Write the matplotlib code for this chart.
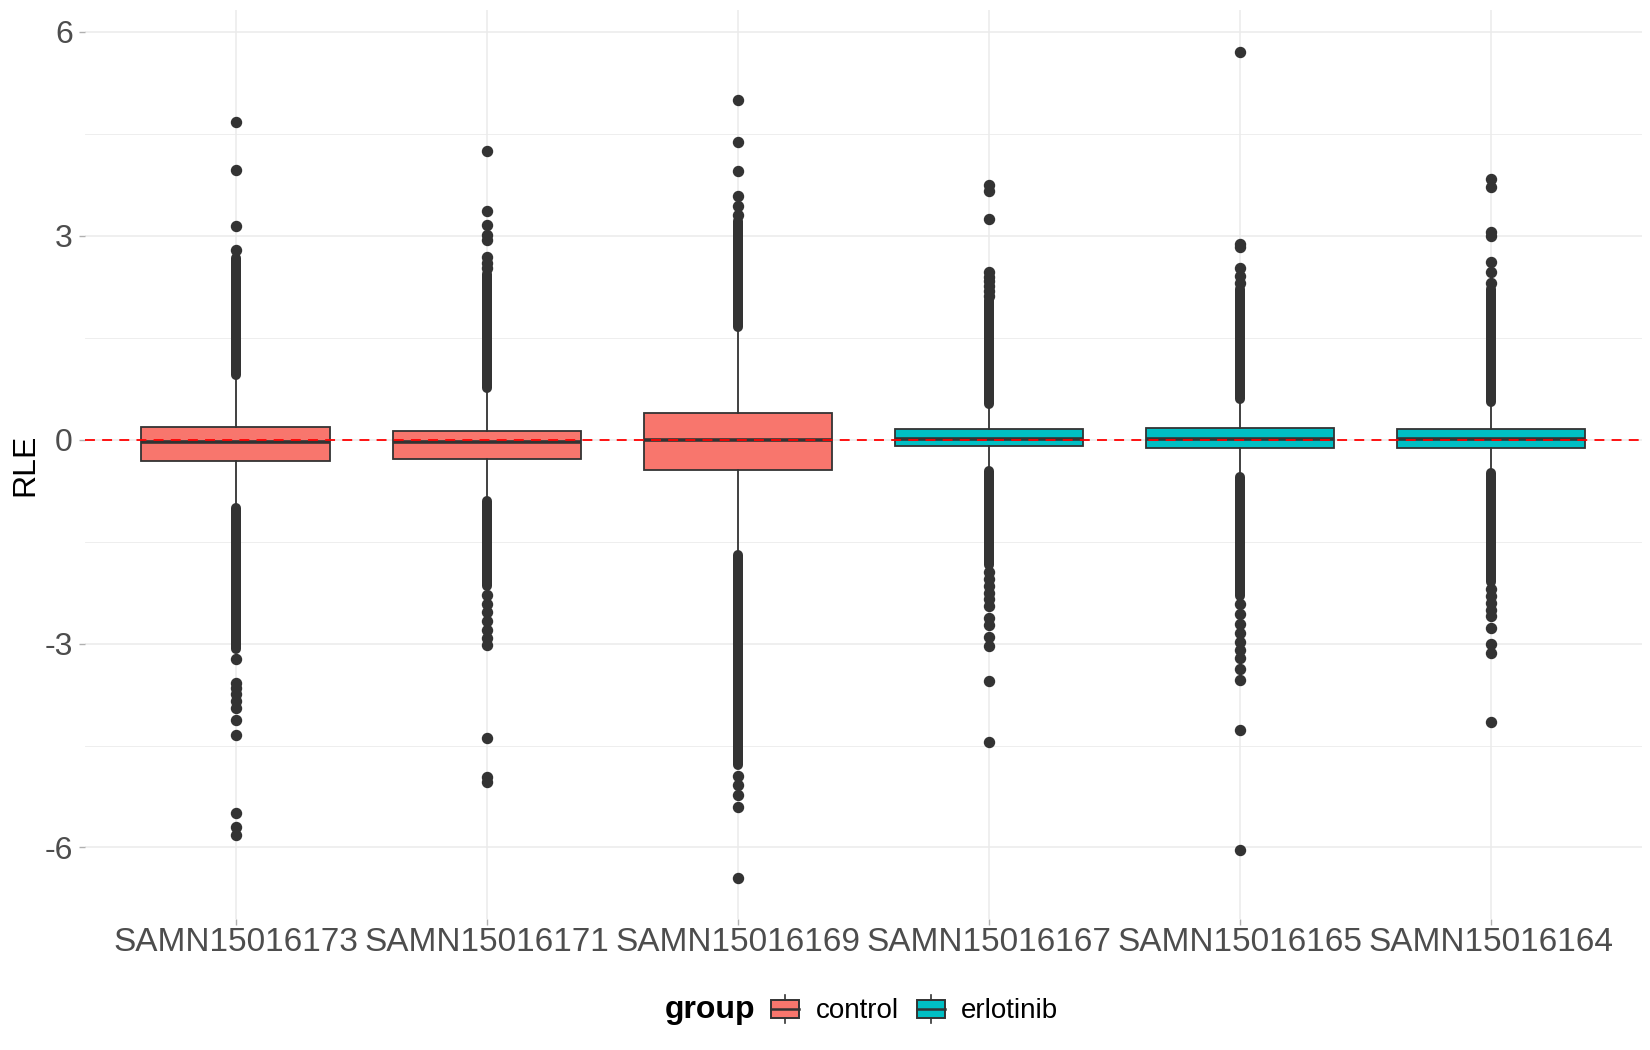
import matplotlib
matplotlib.use('Agg')
import matplotlib.pyplot as plt
from matplotlib.patches import Rectangle
from matplotlib.lines import Line2D

plt.rcParams['font.family'] = ['Liberation Sans', 'DejaVu Sans']
plt.rcParams['axes.unicode_minus'] = False

# ---- data ----
samples = ['SAMN15016173', 'SAMN15016171', 'SAMN15016169',
           'SAMN15016167', 'SAMN15016165', 'SAMN15016164']
groups = ['control', 'control', 'control', 'erlotinib', 'erlotinib', 'erlotinib']

q1 = [-0.31, -0.28, -0.45, -0.10, -0.12, -0.12]
med = [-0.03, -0.04, 0.00, 0.01, 0.01, 0.01]
q3 = [0.19, 0.13, 0.39, 0.15, 0.17, 0.16]
whislo = [-0.99, -0.85, -1.66, -0.43, -0.50, -0.45]
whishi = [0.90, 0.71, 1.62, 0.49, 0.55, 0.50]

# single outliers
out_hi = [
    [4.67, 3.97, 3.14, 2.79],
    [4.25, 3.36, 3.16, 3.01, 2.93, 2.69, 2.60, 2.53],
    [4.99, 4.38, 3.95, 3.59, 3.44, 3.30],
    [3.75, 3.66, 3.24, 2.47, 2.40, 2.33, 2.26, 2.19, 2.12],
    [5.71, 2.88, 2.83, 2.53, 2.41, 2.30],
    [3.84, 3.72, 3.05, 3.00, 2.61, 2.46, 2.30],
]
out_lo = [
    [-3.22, -3.58, -3.66, -3.74, -3.84, -3.95, -4.13, -4.34, -5.49, -5.70, -5.81],
    [-2.28, -2.42, -2.54, -2.67, -2.80, -2.92, -3.02, -4.39, -4.97, -5.03],
    [-4.95, -5.08, -5.23, -5.41, -6.45],
    [-1.95, -2.05, -2.15, -2.25, -2.35, -2.45, -2.63, -2.72, -2.91, -3.03, -3.55, -4.45],
    [-2.42, -2.57, -2.71, -2.84, -2.97, -3.09, -3.21, -3.38, -3.54, -4.27, -6.03],
    [-2.20, -2.30, -2.40, -2.50, -2.59, -2.77, -3.00, -3.14, -4.15],
]
# runs of outliers so dense they merge into a column (low, high)
dense_hi = [(0.95, 2.67), (0.76, 2.44), (1.66, 3.21), (0.53, 2.05), (0.60, 2.22), (0.55, 2.22)]
dense_lo = [(-3.08, -1.01), (-2.16, -0.90), (-4.79, -1.70), (-1.84, -0.46), (-2.30, -0.55), (-2.10, -0.49)]

colors = {'control': '#F8766D', 'erlotinib': '#00BFC4'}
dark = '#333333'

W, H = 1650, 1050
fig = plt.figure(figsize=(W / 100, H / 100), dpi=100)
ax = fig.add_axes([85 / W, 1 - 919.4 / H, (1641.5 - 85) / W, (919.4 - 10.2) / H])

pos = list(range(1, len(samples) + 1))
stats = []
for i in range(len(samples)):
    stats.append(dict(med=med[i], q1=q1[i], q3=q3[i], whislo=whislo[i], whishi=whishi[i],
                      fliers=out_hi[i] + out_lo[i]))

# dense outlier columns drawn as thick round-capped lines
for i in range(len(samples)):
    for lo, hi in (dense_hi[i], dense_lo[i]):
        ax.plot([pos[i], pos[i]], [lo, hi], color=dark, lw=7.2, solid_capstyle='round', zorder=2)

bp = ax.bxp(stats, positions=pos, widths=0.75, patch_artist=True, showcaps=False,
            boxprops=dict(edgecolor=dark, linewidth=1.3),
            medianprops=dict(color=dark, linewidth=2.6),
            whiskerprops=dict(color=dark, linewidth=1.3),
            flierprops=dict(marker='o', markerfacecolor=dark, markeredgecolor=dark,
                            markersize=7.2, linestyle='none'),
            zorder=3)
for patch, g in zip(bp['boxes'], groups):
    patch.set_facecolor(colors[g])

ax.axhline(0, color='red', lw=1.3, ls=(0, (5.5, 4)), zorder=5)

allv = [v for l in out_hi + out_lo for v in l]
lo_v, hi_v = min(allv), max(allv)
rng = hi_v - lo_v
ax.set_ylim(lo_v - 0.05 * rng, hi_v + 0.05 * rng)
ax.set_xlim(0.4, len(samples) + 0.6)

ax.set_yticks([-6, -3, 0, 3, 6])
ax.set_yticks([-4.5, -1.5, 1.5, 4.5], minor=True)
ax.set_xticks(pos, samples)
ax.tick_params(axis='both', which='major', length=4.3, width=1, color='#B0B0B0', colors='#4D4D4D')
ax.tick_params(axis='y', which='major', labelsize=23, pad=4.5)
ax.tick_params(axis='x', which='major', labelsize=24, pad=1.5)
ax.tick_params(axis='y', which='minor', length=0)
for lab in ax.get_xticklabels() + ax.get_yticklabels():
    lab.set_color('#4D4D4D')

ax.grid(True, which='major', color='#EBEBEB', lw=1.1, zorder=0)
ax.grid(True, which='minor', axis='y', color='#EBEBEB', lw=0.6, zorder=0)
ax.set_axisbelow(True)
for s in ax.spines.values():
    s.set_visible(False)

fig.text(25 / W, 1 - 465 / H, 'RLE', rotation=90, ha='center', va='center', fontsize=23)


# ---- legend at the bottom ----
def fx(x):
    return x / W


def fy(y):
    return 1 - y / H


fig.text(fx(665), fy(1018), 'group', fontsize=23, fontweight='bold', va='baseline', ha='left')
keys = [(770.7, 'control', 815.7), (916.7, 'erlotinib', 961)]
for kx, name, tx in keys:
    kw = 28.6
    fig.add_artist(Rectangle((fx(kx), fy(1018.3)), kw / W, 18.3 / H, transform=fig.transFigure,
                             facecolor=colors[name], edgecolor=dark, lw=1.4))
    cx = kx + kw / 2
    fig.add_artist(Line2D([fx(kx), fx(kx + kw)], [fy(1009), fy(1009)], transform=fig.transFigure,
                          color=dark, lw=1.8))
    fig.add_artist(Line2D([fx(cx), fx(cx)], [fy(995), fy(1000)], transform=fig.transFigure,
                          color=dark, lw=1.2))
    fig.add_artist(Line2D([fx(cx), fx(cx)], [fy(1018.3), fy(1023)], transform=fig.transFigure,
                          color=dark, lw=1.2))
    fig.text(fx(tx), fy(1018), name, fontsize=20, va='baseline', ha='left')

fig.savefig('out.png', dpi=100)
